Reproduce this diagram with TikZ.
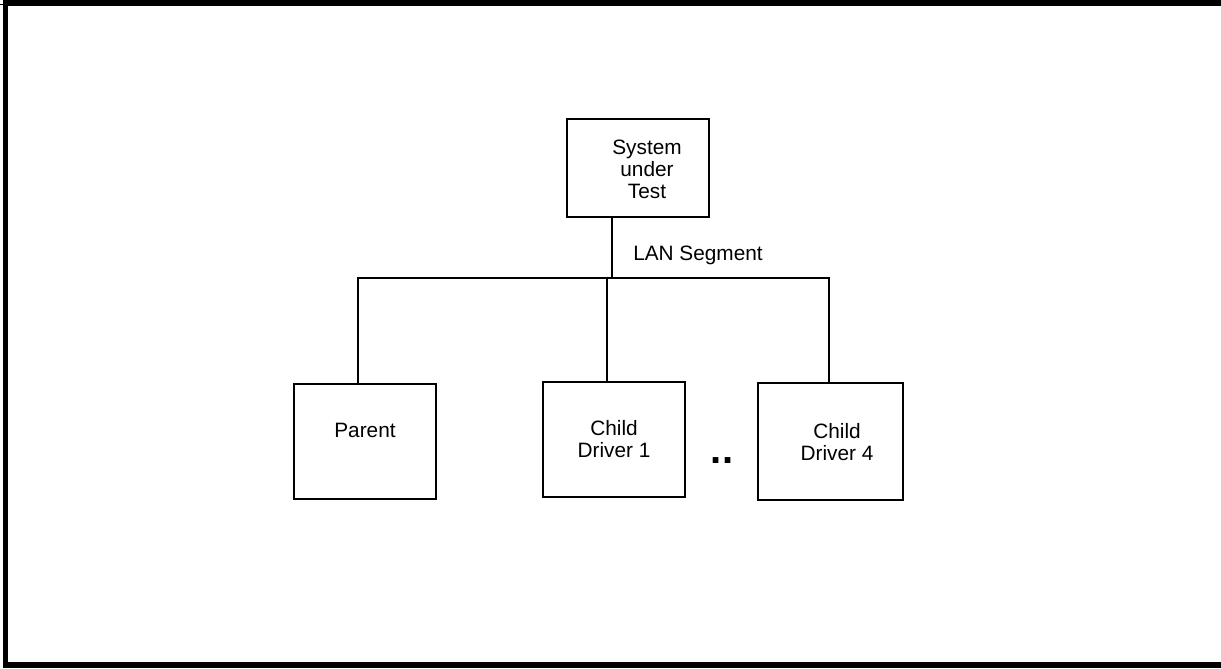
\documentclass[tikz,border=0pt]{standalone}
\usepackage{fontspec}
\setmainfont{Liberation Sans}
\usepackage{tikz}
\usetikzlibrary{positioning}

\tikzset{
  unit box/.style={draw, line width=0.9pt, rectangle, inner sep=0pt},
  box text/.style={inner sep=0.75pt, align=center, font=\fontsize{15.6}{16.5}\selectfont},
  lan line/.style={line width=1pt},
  frame line/.style={line width=4.2pt},
}

\begin{document}
\begin{tikzpicture}[x=0.75pt,y=0.75pt,yscale=-1,xscale=1]
    \useasboundingbox (0,0) rectangle (1221,668);

    % frame (left, top, bottom)
    \draw [frame line] (1221,3) -- (5.5,3) -- (5.5,665) -- (1221,665) ;
    \draw [line width=1.2pt] (0,4.5) -- (243,4.5) ;

    % Boxes
    \node [unit box, minimum width=106.5pt, minimum height=73.5pt] (sut) at (638,168) {};
    \node [unit box, minimum width=106.5pt, minimum height=86.25pt] (parent) at (365,441.5) {};
    \node [unit box, minimum width=106.5pt, minimum height=86.25pt] (child1) at (614,439.5) {};
    \node [unit box, minimum width=108.75pt, minimum height=87.75pt] (child4) at (830.5,441.5) {};

    % Text Node
    \node [box text] (sut text) at (647,169) {System\\under\\Test};
    \node [box text] (parent text) at (365,430) {Parent};
    \node [box text] (child1 text) at (614,439) {Child\\Driver 1};
    \node [box text] (child4 text) at (837,442.5) {Child\\Driver 4};
    \node [box text, anchor=west] (lan text) at (632,255) {LAN Segment};
    \node [inner sep=0pt, anchor=base, font=\fontsize{30}{30}\selectfont\bfseries] (dots) at (722,463.5) {..};

    % LAN segment
    \coordinate (tap) at (612,278);
    \coordinate (bus left) at (358,278);
    \coordinate (bus mid) at (607,278);
    \coordinate (bus right) at (829,278);
    \draw [lan line] (tap |- sut.south) -- (tap) ;
    \draw [lan line] (bus left |- parent.north) -- (bus left) -- (bus right) -- (bus right |- child4.north) ;
    \draw [lan line] (bus mid) -- (bus mid |- child1.north) ;

\end{tikzpicture}
\end{document}
